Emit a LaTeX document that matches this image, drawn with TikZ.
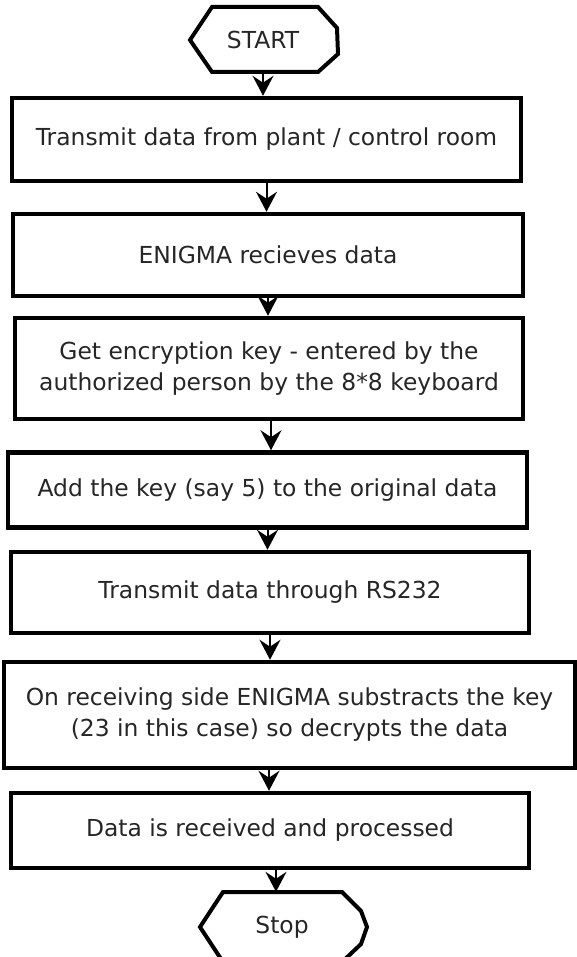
\documentclass[tikz,border=0pt]{standalone}
\usepackage{fontspec}
\setmainfont{DejaVu Sans}
\usetikzlibrary{arrows.meta}
\begin{document}
\begin{tikzpicture}[x=1pt,y=-1pt,
  stepbox/.style={draw=black,line width=4.5pt,rectangle,inner sep=0pt,
    font=\fontsize{23.4}{31}\selectfont,text=black!85,align=center},
  txt/.style={inner sep=0pt,font=\fontsize{23.4}{31}\selectfont,text=black!85,align=center},
  flow/.style={line width=2pt,-{Stealth[length=20pt,width=21pt,inset=7pt]}},
  term/.style={line width=4pt,line join=miter}]
\useasboundingbox (0,0) rectangle (576,957);
\fill[white] (0,0) rectangle (576,957);

% start terminal
\node[txt,minimum width=146pt,minimum height=65pt] (start) at (263,40) {START};
\draw[term] (212,7) -- (318,7) -- (337,28) -- (338,54) -- (318,72) -- (212,72) -- (190,40) -- cycle;

% process boxes (centre, width, height)
\node[stepbox,minimum width=509pt,minimum height=83pt] (b1) at (266.5,139.5) {Transmit data from plant / control room};
\node[stepbox,minimum width=510pt,minimum height=82pt] (b2) at (268,255) {ENIGMA recieves data};
\node[stepbox,minimum width=508pt,minimum height=101pt] (b3) at (269,368.5) {Get encryption key - entered by the\\authorized person by the 8*8 keyboard};
\node[stepbox,minimum width=519pt,minimum height=75pt] (b4) at (267.5,490) {Add the key (say 5) to the original data};
\node[stepbox,minimum width=518pt,minimum height=81pt] (b5) at (270,592.5) {Transmit data through RS232};
\node[stepbox,minimum width=571pt,minimum height=106pt] (b6) at (289.5,715) {On receiving side ENIGMA substracts the key\\(23 in this case) so decrypts the data};
\node[stepbox,minimum width=518pt,minimum height=75pt] (b7) at (270,830.5) {Data is received and processed};

% stop terminal
\node[txt,minimum width=150pt,minimum height=70pt] (stop) at (282,927) {Stop};
\draw[term] (223,892) -- (342,892) -- (361,911) -- (367,927) -- (361,944) -- (342,962) -- (223,962) -- (200,927) -- cycle;

% connectors
\coordinate (s0) at (start.south);
\draw[flow] (s0) -- (s0 |- b1.north);
\draw[flow] (b1.south) -- (b1.south |- b2.north);
\draw[flow] (b2.south) -- (b2.south |- b3.north);
\coordinate (s3) at (271,419);
\draw[flow] (s3) -- (s3 |- b4.north);
\draw[flow] (b4.south) -- (b4.south |- b5.north);
\draw[flow] (b5.south) -- (b5.south |- b6.north);
\coordinate (s6) at (269,768);
\draw[flow] (s6) -- (s6 |- b7.north);
\coordinate (s7) at (276,868);
\draw[flow] (s7) -- (s7 |- stop.north);
\end{tikzpicture}
\end{document}
